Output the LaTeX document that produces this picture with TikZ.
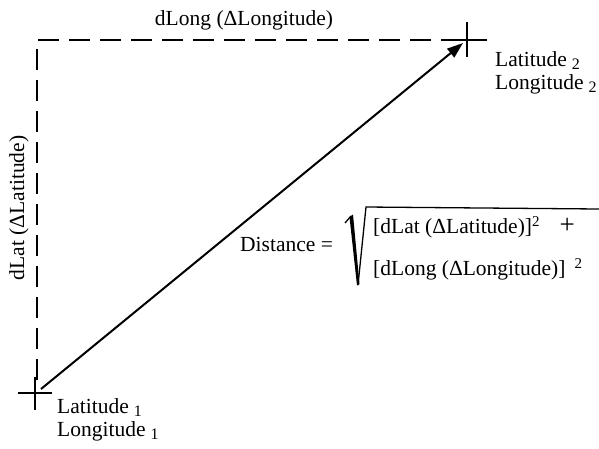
\documentclass[tikz,border=0pt]{standalone}
\usepackage{fontspec}
\setmainfont{Liberation Serif}
\usetikzlibrary{arrows.meta}
\newcommand{\lowsub}[1]{\hspace{5pt}\raisebox{-3pt}{\fontsize{16}{16}\selectfont #1}}
\newcommand{\highsup}[1]{\raisebox{7pt}{\fontsize{15}{15}\selectfont #1}}
\begin{document}
\begin{tikzpicture}[x=1pt,y=-1pt,
  font=\fontsize{21.5}{24}\selectfont,
  dashline/.style={line width=2.2pt, dash pattern=on 21pt off 10pt},
  crossline/.style={line width=2.5pt},
  arrowline/.style={line width=2pt, -{Triangle[length=16pt,width=11pt]}},
  radline/.style={line width=1.3pt},
  txt/.style={inner sep=0pt, anchor=base west}]
\useasboundingbox[fill=white] (0,0) rectangle (599,448);
% points
\coordinate (p1) at (35,393);
\coordinate (p2) at (467,40);
\coordinate (corner) at (37,40);
\coordinate (vend) at (37,380);
\coordinate (hend) at (452,40);
\coordinate (a1) at (41,389);
\coordinate (a2) at (463,43);
% crosses
\draw[crossline] ([xshift=-17pt]p1) -- ([xshift=17pt]p1);
\draw[crossline] ([yshift=16pt]p1) -- ([yshift=-17pt]p1);
\draw[crossline] ([xshift=-18pt]p2) -- ([xshift=20pt]p2);
\draw[crossline] ([yshift=18pt]p2) -- ([yshift=-17pt]p2);
% dashed legs
\draw[dashline] (vend) -- (corner) -- (hend);
% arrow
\draw[arrowline] (a1) -- (a2);
% labels
\node (dlong) at (244,20) {dLong (ΔLongitude)};
\node[rotate=90] (dlat) at (19,208) {dLat (ΔLatitude)};
\node[txt] (lat2) at (495,66) {Latitude\lowsub{2}};
\node[txt] (lon2) at (495,89) {Longitude\lowsub{2}};
\node[txt] (lat1) at (57,413) {Latitude\lowsub{1}};
\node[txt] (lon1) at (57,436) {Longitude\lowsub{1}};
\node[txt] (dist) at (240,251) {Distance =};
\node[txt] (t1) at (373,233) {[dLat (ΔLatitude)]\highsup{2}\hspace{20pt}{\fontsize{27}{27}\selectfont +}};
\node[txt] (t2) at (373,275) {[dLong (ΔLongitude)]\hspace{9pt}\highsup{2}};
% radical
\draw[radline] (345,223) -- (351,216);
\fill (349.5,217) -- (353,214.5) -- (359.5,284) -- (357,285.5) -- cycle;
\draw[radline] (358,285) -- (366,207) -- (599,209);
\end{tikzpicture}
\end{document}
